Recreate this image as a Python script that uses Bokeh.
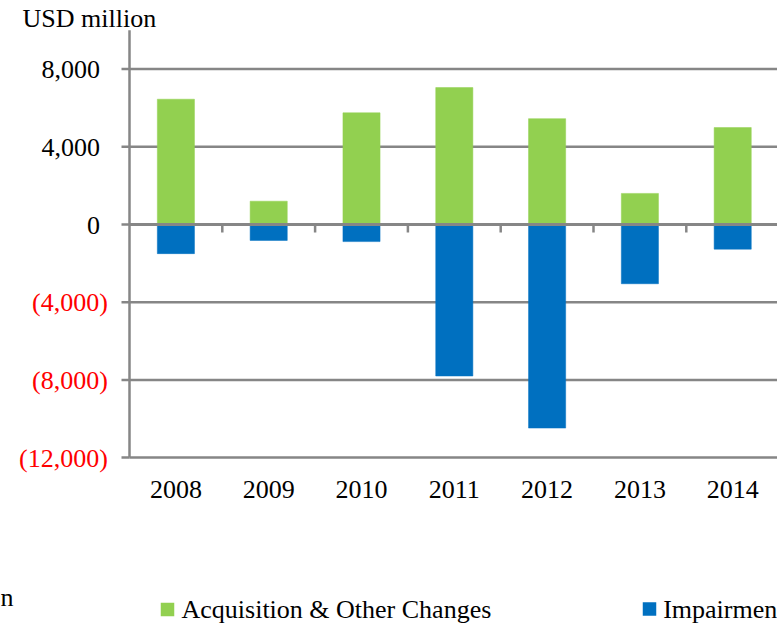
from bokeh.plotting import figure
from bokeh.models import Range1d, ColumnDataSource
from bokeh.core.properties import value
from bokeh.embed import file_html
from bokeh.resources import INLINE

years = ["2008", "2009", "2010", "2011", "2012", "2013", "2014"]
acquisition = [6450, 1200, 5750, 7050, 5450, 1600, 4990]
impairment = [-1500, -820, -880, -7800, -10480, -3050, -1270]
y_ticks = [8000, 4000, 0, -4000, -8000, -12000]
y_axis_max = 10000
legend_labels = ["Acquisition & Other Changes", "Impairment"]

W, H = 777, 625
FONT = value("Liberation Serif")
FS = "26px"
GRID = "#868686"
GREEN = "#92D050"
BLUE = "#0070C0"

# layout (pixels)
AXIS_X = 129.0        # x pixel of the value axis
ZERO_Y = 224.0        # y pixel of value 0
CAT_W = 92.8          # pixel width of one category
PPU = 77.7 / 4000.0   # pixels per value unit
TICK = 8.0            # tick length in px


def dx(px):
    return (px - AXIS_X) / CAT_W


def dy(py):
    return (ZERO_Y - py) / PPU


n = len(years)
xs = [i + 0.5 for i in range(n)]

p = figure(width=W, height=H, output_backend="svg", toolbar_location=None,
           x_range=Range1d(dx(0), dx(W)), y_range=Range1d(dy(H), dy(0)),
           x_axis_type=None, y_axis_type=None, min_border=0)
p.outline_line_color = None
p.background_fill_color = "white"
p.border_fill_color = "white"
p.grid.visible = False

# horizontal gridlines
p.segment(x0=[0] * len(y_ticks), x1=[n] * len(y_ticks), y0=y_ticks, y1=y_ticks,
          line_color=GRID, line_width=2.5)

# bars
src = ColumnDataSource(dict(x=xs, acq=acquisition, imp=impairment))
p.vbar(x="x", top="acq", bottom=0, width=0.4, source=src,
       fill_color=GREEN, line_color=GREEN, line_width=0.5)
p.vbar(x="x", top=0, bottom="imp", width=0.4, source=src,
       fill_color=BLUE, line_color=BLUE, line_width=0.5)

# zero line (category axis) over bars, with boundary ticks
p.segment(x0=[0], x1=[n], y0=[0], y1=[0], line_color=GRID, line_width=3)
bounds = list(range(1, n))
p.segment(x0=bounds, x1=bounds, y0=[0] * len(bounds),
          y1=[-TICK / PPU] * len(bounds), line_color=GRID, line_width=2.5)

# value axis line + ticks
p.segment(x0=[0], x1=[0], y0=[min(y_ticks)], y1=[y_axis_max],
          line_color=GRID, line_width=2.5)
p.segment(x0=[-TICK / CAT_W] * len(y_ticks), x1=[0] * len(y_ticks),
          y0=y_ticks, y1=y_ticks, line_color=GRID, line_width=2.5)

# value tick labels
pos = [v for v in y_ticks if v >= 0]
neg = [v for v in y_ticks if v < 0]
p.text(x=[0] * len(pos), y=pos, text=[f"{v:,}" for v in pos],
       x_offset=-29.5, y_offset=0.5, text_align="right", text_baseline="middle",
       text_font=FONT, text_font_size=FS, text_color="black")
p.text(x=[0] * len(neg), y=neg, text=[f"({-v:,})" for v in neg],
       x_offset=-21.7, y_offset=0.5, text_align="right", text_baseline="middle",
       text_font=FONT, text_font_size=FS, text_color="#FF0000")

# category labels
p.text(x=xs, y=[min(y_ticks)] * n, text=years, y_offset=31.5,
       text_align="center", text_baseline="middle",
       text_font=FONT, text_font_size=FS, text_color="black")

# unit label
p.text(x=[dx(22)], y=[dy(18)], text=["USD million"],
       text_align="left", text_baseline="middle",
       text_font=FONT, text_font_size=FS, text_color="black")

# stray clipped text at left edge
p.text(x=[dx(0)], y=[dy(597)], text=["n"],
       text_align="left", text_baseline="middle",
       text_font=FONT, text_font_size=FS, text_color="black")

# legend
sq_x = [dx(167), dx(649)]
sq_y = [dy(609), dy(608.5)]
p.rect(x=sq_x, y=sq_y, width=13.5, height=13.5, width_units="screen",
       height_units="screen", fill_color=[GREEN, BLUE], line_color=None)
p.text(x=[dx(181), dx(662.7)], y=[dy(609.2), dy(609.2)], text=legend_labels,
       text_align="left", text_baseline="middle",
       text_font=FONT, text_font_size=FS, text_color="black")

open("out.html", "w").write(file_html(p, INLINE))
